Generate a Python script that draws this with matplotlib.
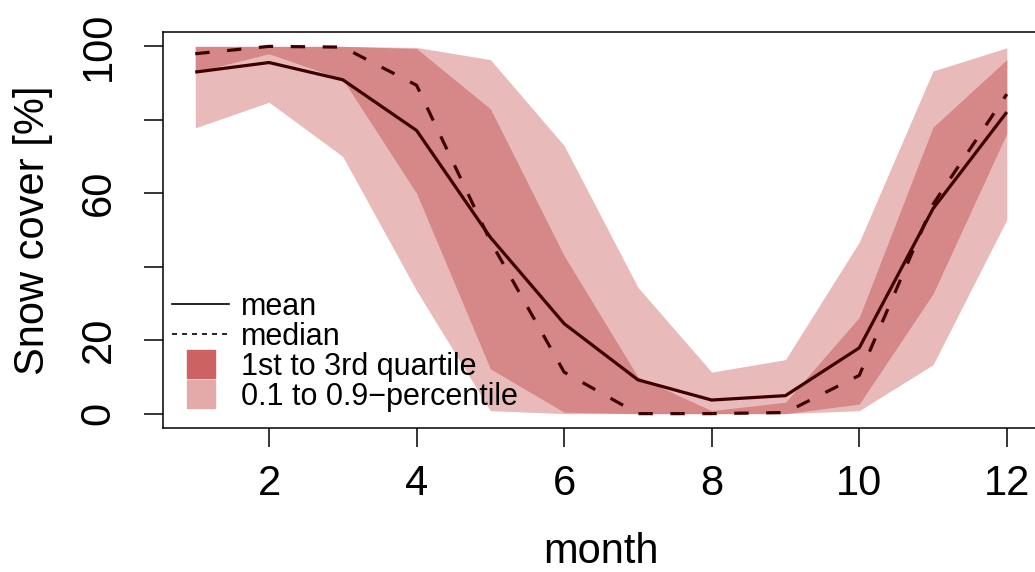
import matplotlib
matplotlib.use("Agg")
import matplotlib.pyplot as plt
from matplotlib.lines import Line2D

plt.rcParams['font.family'] = ['Liberation Sans', 'DejaVu Sans']

# Data
months = [1, 2, 3, 4, 5, 6, 7, 8, 9, 10, 11, 12]
snow_mean = [93.0, 95.6, 90.9, 77.1, 48.0, 24.5, 9.2, 3.7, 4.9, 17.9, 55.8, 82.1]
snow_median = [98.0, 100.0, 99.8, 89.4, 47.0, 11.3, 0.0, 0.0, 0.3, 10.4, 57.0, 87.0]
q1 = [93.0, 98.0, 91.0, 60.0, 12.2, 0.4, 0.0, 0.0, 0.0, 2.6, 32.6, 76.3]
q3 = [100.0, 100.0, 100.0, 99.4, 83.0, 43.0, 10.0, 0.8, 3.1, 26.2, 78.0, 96.4]
p10 = [77.8, 84.8, 70.0, 33.5, 0.8, 0.0, 0.0, 0.0, 0.0, 0.8, 13.3, 52.8]
p90 = [100.0, 100.0, 100.0, 99.7, 96.4, 73.0, 34.4, 11.3, 14.7, 46.7, 93.3, 99.6]

col_light = '#e8baba'
col_dark = '#d68787'
col_line = '#3c0000'

fig = plt.figure(figsize=(10.35, 5.72), dpi=100)
ax = fig.add_axes([0.1573, 0.2512, 0.8468, 0.6934])

ax.fill_between(months, p10, p90, color=col_light, lw=0)
ax.fill_between(months, q1, q3, color=col_dark, lw=0)
ax.plot(months, snow_mean, color=col_line, lw=2.3, solid_capstyle='butt')
ax.plot(months, snow_median, color=col_line, lw=2.3, linestyle=(0, (4.5, 5.5)))

ax.set_xlim(0.56, 12.44)
ax.set_ylim(-4, 104)
ax.set_xticks([2, 4, 6, 8, 10, 12])
ax.set_yticks([0, 20, 40, 60, 80, 100])
ax.set_yticklabels(['0', '20', '', '60', '', '100'], rotation=90, va='center')

ax.tick_params(axis='both', labelsize=30, length=13.7, width=1.1, direction='out')
ax.tick_params(axis='x', pad=12)
ax.tick_params(axis='y', pad=18)
for s in ax.spines.values():
    s.set_linewidth(1.1)

ax.set_xlabel('month', fontsize=30, va='center')
ax.xaxis.set_label_coords(0.5, -0.312)
ax.set_ylabel('Snow cover [%]', fontsize=30, va='center')
ax.yaxis.set_label_coords(-0.148, 0.5)

handles = [
    Line2D([], [], color='black', lw=1.2),
    Line2D([], [], color='black', lw=1.2, linestyle=(0, (3, 3))),
    Line2D([], [], color='#cd6262', marker='s', markersize=20, linestyle='none'),
    Line2D([], [], color='#e4a9a9', marker='s', markersize=20, linestyle='none'),
]
labels = ['mean', 'median', '1st to 3rd quartile', '0.1 to 0.9\u2212percentile']
ax.legend(handles, labels, loc='lower left', bbox_to_anchor=(0.0105, 0.041),
          frameon=False, fontsize=22, handlelength=1.88, handletextpad=0.38,
          labelspacing=0.0, borderpad=0, borderaxespad=0)

fig.savefig('out.png', dpi=100)
